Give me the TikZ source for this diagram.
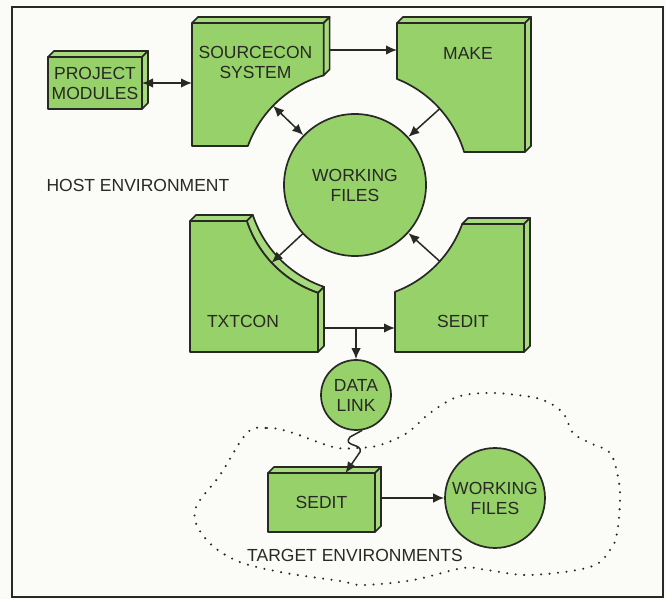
\documentclass[tikz,border=0pt]{standalone}
\usepackage{fontspec}
\setmainfont{Liberation Sans}
\usetikzlibrary{arrows.meta,calc}

\definecolor{boxgreen}{RGB}{150,209,106}
\definecolor{facegreen}{RGB}{166,218,124}
\definecolor{inkgray}{RGB}{40,40,36}
\definecolor{paper}{RGB}{251,251,247}

% top and side faces of a plain box node
\newcommand\slabfaces[1]{%
  \filldraw[face] (#1.north west) -- ++(6,6) -- ([shift={(6,6)}]#1.north east) -- (#1.north east) -- cycle;
  \filldraw[face] (#1.north east) -- ++(6,6) -- ([shift={(6,6)}]#1.south east) -- (#1.south east) -- cycle;}

\begin{document}
\begin{tikzpicture}[x=1pt, y=1pt,
    font=\fontsize{17.5}{20}\selectfont,
    every node/.style={text=inkgray, align=center},
    front/.style={draw=inkgray, fill=boxgreen, line width=1.7pt, line join=round},
    face/.style={front, fill=facegreen},
    slab/.style={front, inner sep=0pt, outer sep=0pt},
    disc/.style={front, circle, inner sep=0pt},
    arr/.style={-{Latex[length=11pt,width=9.5pt]}, draw=inkgray, line width=1.5pt},
    dbl/.style={arr, {Latex[length=11pt,width=9.5pt]}-{Latex[length=11pt,width=9.5pt]}},
    blob/.style={draw=inkgray, line width=2.3pt, line cap=round, dash pattern=on 0pt off 8.5pt}
]
\fill[paper] (0,0) rectangle (666,599);
\draw[inkgray, line width=2.2pt] (12,2) rectangle (663,592);

% host side: boxes cut round the working files
\filldraw[face] (192,576) -- (198,582) -- (329.6,582) -- (323.6,576) -- cycle;
\filldraw[face] (323.6,576) -- (329.6,582) -- (329.6,529.6) -- (323.6,523.6) -- cycle;
\filldraw[front] (192,576) -- (323.6,576) -- (323.6,523.6)
    arc[start angle=106, end angle=160, radius=114] -- (192,453) -- cycle;

\filldraw[face] (397,576) -- (403,582) -- (531,582) -- (525,576) -- cycle;
\filldraw[face] (525,576) -- (531,582) -- (531,453) -- (525,447) -- cycle;
\filldraw[front] (397,576) -- (525,576) -- (525,447) -- (464.1,447)
    arc[start angle=16.8, end angle=68.4, radius=114] -- cycle;

\filldraw[face] (190,378) -- (196,384) -- (252.8,384) -- (246.8,378) -- cycle;
\filldraw[face] (246.8,378) -- (252.8,384) arc[start angle=198.4, end angle=251.1, radius=114]
    -- (318,306.2) arc[start angle=251.1, end angle=198.4, radius=114] -- cycle;
\filldraw[face] (318,306.2) -- (324,312.2) -- (324,253) -- (318,247) -- cycle;
\filldraw[front] (190,378) -- (246.8,378) arc[start angle=198.4, end angle=251.1, radius=114]
    -- (318,247) -- (190,247) -- cycle;

\filldraw[face] (462.1,375) -- (468.1,381) -- (530,381) -- (524,375) -- cycle;
\filldraw[face] (524,375) -- (530,381) -- (530,253) -- (524,247) -- cycle;
\filldraw[front] (395,307.2) arc[start angle=-69.5, end angle=-20, radius=114]
    -- (524,375) -- (524,247) -- (395,247) -- cycle;

\node[disc, minimum size=142pt] (wf) at (355,414) {WORKING\\FILES};

\node[slab, minimum width=94pt, minimum height=52pt] (pm) at (95,516) {PROJECT\\MODULES};
\slabfaces{pm}

\node (sc) at (255.5,537) {SOURCECON\\SYSTEM};
\node (mk) at (468,546) {MAKE};
\node (tx) at (243,278) {TXTCON};
\node (se) at (463,278) {SEDIT};
\node[anchor=west] (host) at (43,414) {HOST ENVIRONMENT};

% target side
\draw[blob] plot[smooth cycle, tension=0.6] coordinates {
    (247,166) (267,171) (290,167) (333,152) (357,151) (380,154) (407,166)
    (430,186) (457,202) (487,206) (517,204) (543,199) (563,186) (573,166)
    (590,156) (610,146) (618,122) (620,99) (617,66) (610,49) (590,32)
    (530,24) (487,29) (463,31) (413,19) (363,14) (340,18) (280,27)
    (235,39) (205,61) (195,89) (220,124)};

\node[disc, minimum size=70pt] (dl) at (356,204) {DATA\\LINK};
\node[slab, minimum width=107pt, minimum height=59pt] (ls) at (321.5,96.5) {SEDIT};
\slabfaces{ls}
\node[disc, minimum size=100pt] (wf2) at (495,101) {WORKING\\FILES};
\node (target) at (355,44) {TARGET ENVIRONMENTS};

% connectors
\coordinate (scW) at (192,516);
\coordinate (scE) at (329.6,549);
\coordinate (mkW) at (397,549);
\coordinate (txE) at (324,271);
\coordinate (seW) at (395,271);
\coordinate (scA) at ($(wf.center)+(136:114)$);
\coordinate (mkA) at ($(wf.center)+(42:114)$);
\coordinate (txA) at ($(wf.center)+(223:114)$);
\coordinate (seA) at ($(wf.center)+(-42:114)$);
\coordinate (lsT) at ([xshift=24pt]ls.north);
\coordinate (lsE) at ([xshift=6pt]ls.east);

\draw[dbl] (pm.east) -- (scW);
\draw[arr] (scE) -- (mkW);
\draw[dbl] (scA) -- (wf.136);
\draw[arr] (mkA) -- (wf.42);
\draw[arr] (wf.223) -- (txA);
\draw[arr] (seA) -- (wf.-42);
\draw[arr] (txE) -- (seW);
\draw[arr] (txE -| dl.north) -- (dl.north);
\draw[arr] (dl.-80) -- (350,162) .. controls (342,152) and (363,156) .. (360,147) -- (lsT);
\draw[arr] (lsE |- wf2.west) -- (wf2.west);
\end{tikzpicture}
\end{document}
